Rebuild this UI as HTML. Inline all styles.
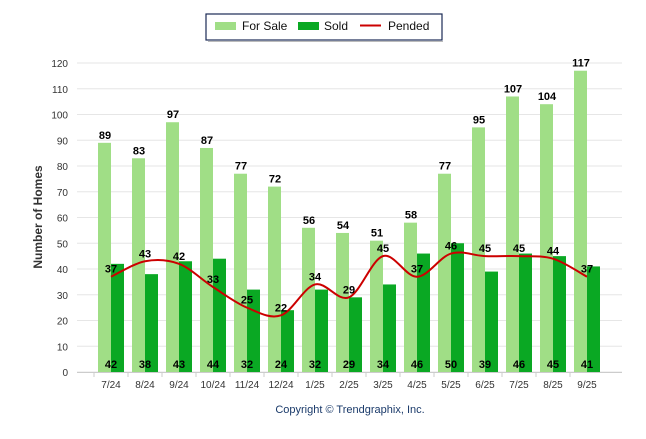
<!DOCTYPE html>
<html><head><meta charset="utf-8"><style>
body{margin:0;background:#fff;font-family:"Liberation Sans",sans-serif}
</style></head><body>
<svg id="c" width="646" height="434" xmlns="http://www.w3.org/2000/svg" font-family="Liberation Sans, sans-serif"></svg>
<script>
const categories=["7/24","8/24","9/24","10/24","11/24","12/24","1/25","2/25","3/25","4/25","5/25","6/25","7/25","8/25","9/25"];
const forSale=[89,83,97,87,77,72,56,54,51,58,77,95,107,104,117];
const sold=[42,38,43,44,32,24,32,29,34,46,50,39,46,45,41];
const pended=[37,43,42,33,25,22,34,29,45,37,46,45,45,44,37];
const yTicks=[0,10,20,30,40,50,60,70,80,90,100,110,120];
const svg=document.getElementById('c');const NS='http://www.w3.org/2000/svg';
function el(t,a,txt){const e=document.createElementNS(NS,t);for(const k in a)e.setAttribute(k,a[k]);if(txt!==undefined)e.textContent=txt;svg.appendChild(e);return e;}
const y=v=>372-v*2.575;const x=i=>111+34*i;
yTicks.forEach(t=>{const g=el('line',{x1:77,x2:622,y1:y(t),y2:y(t),stroke:'#e6e6e6'});

const l=el('text',{x:68,y:y(t)+4,'text-anchor':'end','font-size':10,fill:'#333'},t);
});
const ax=el('line',{x1:77,x2:622,y1:372.5,y2:372.5,stroke:'#ccc'});
categories.forEach((c,i)=>{
const b1=el('rect',{x:x(i)-13,y:y(forSale[i]),width:13,height:forSale[i]*2.575,fill:'#a0de86'});

const b2=el('rect',{x:x(i),y:y(sold[i]),width:13,height:sold[i]*2.575,fill:'#0aa823'});

const t1=el('text',{x:x(i)-6,y:y(forSale[i])-4,'text-anchor':'middle','font-size':11,'font-weight':'bold'},forSale[i]);

const t2=el('text',{x:x(i),y:368,'text-anchor':'middle','font-size':11,'font-weight':'bold'},sold[i]);

const xl=el('text',{x:x(i),y:388,'text-anchor':'middle','font-size':10,fill:'#333'},c);

const tk=el('line',{x1:x(i)-17,x2:x(i)-17,y1:372,y2:377,stroke:'#ccc'});
});
// smooth line
let d='M'+x(0)+','+y(pended[0]);
for(let i=0;i<pended.length-1;i++){const p0=[x(Math.max(i-1,0)),y(pended[Math.max(i-1,0)])],p1=[x(i),y(pended[i])],p2=[x(i+1),y(pended[i+1])],p3=[x(Math.min(i+2,pended.length-1)),y(pended[Math.min(i+2,pended.length-1)])];
const c1=[p1[0]+(p2[0]-p0[0])/6,p1[1]+(p2[1]-p0[1])/6],c2=[p2[0]-(p3[0]-p1[0])/6,p2[1]-(p3[1]-p1[1])/6];
d+=` C${c1[0]},${c1[1]} ${c2[0]},${c2[1]} ${p2[0]},${p2[1]}`;}
const pl=el('path',{d:d,fill:'none',stroke:'#cc0000','stroke-width':2});
pended.forEach((v,i)=>{const t=el('text',{x:x(i),y:y(v)-4,'text-anchor':'middle','font-size':11,'font-weight':'bold'},v);
});
const yt=el('text',{x:42,y:217,'text-anchor':'middle','font-size':12,'font-weight':'bold',fill:'#333',transform:'rotate(-90 42 217)'},'Number of Homes');

const cp=el('text',{x:350,y:413,'text-anchor':'middle','font-size':11,fill:'#1a3a6a'},'Copyright © Trendgraphix, Inc.');

const lg=el('rect',{x:206,y:14,width:236,height:26,fill:'#fff',stroke:'#1a2a55','stroke-width':1.2,filter:''});
const sh=el('line',{x1:208,x2:443,y1:41.5,y2:41.5,stroke:'#bbb'});
[[215,'rect','#a0de86','For Sale',242],[298,'rect','#0aa823','Sold',324],[360,'line','#cc0000','Pended',388]].forEach(a=>{
if(a[1]=='rect'){const r=el('rect',{x:a[0],y:22,width:21,height:8,fill:a[2]});}
else{const r=el('line',{x1:a[0],x2:a[0]+21,y1:25.5,y2:25.5,stroke:a[2],'stroke-width':2});}
const t=el('text',{x:a[4],y:30,'font-size':12,fill:'#111'},a[3]);});
</script>
</body></html>
